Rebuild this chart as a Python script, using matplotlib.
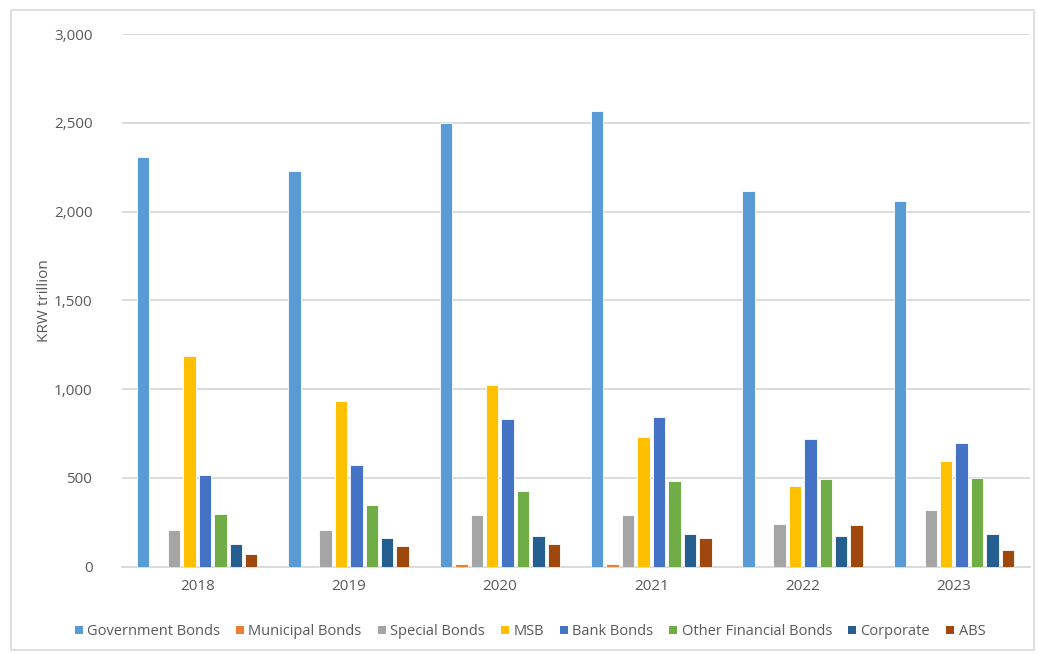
import matplotlib.pyplot as plt
import numpy as np
from matplotlib.patches import Rectangle, Patch
from matplotlib.ticker import FuncFormatter

years = ["2018", "2019", "2020", "2021", "2022", "2023"]
series = ["Government Bonds", "Municipal Bonds", "Special Bonds", "MSB",
          "Bank Bonds", "Other Financial Bonds", "Corporate", "ABS"]

government = [2306, 2228, 2500, 2567, 2115, 2057]
municipal = [0, 0, 17, 17, 0, 0]
special = [208, 208, 289, 289, 242, 320]
msb = [1184, 935, 1025, 729, 457, 594]
bank = [514, 570, 832, 841, 718, 695]
other_fin = [298, 345, 424, 480, 493, 502]
corporate = [129, 163, 174, 185, 174, 185]
abs_bonds = [73, 118, 129, 163, 233, 94]

values = [government, municipal, special, msb, bank, other_fin, corporate, abs_bonds]
colors = ["#5B9BD5", "#ED7D31", "#A5A5A5", "#FFC000",
          "#4472C4", "#70AD47", "#255E91", "#9E480E"]

plt.rcParams['font.family'] = ['Open Sans', 'DejaVu Sans']

fig = plt.figure(figsize=(10.39, 6.54), dpi=100)
ax = fig.add_axes([0.117, 0.1335, 0.874, 0.8145])

# thin grey frame round the whole chart
fig.patches.append(Rectangle((0.011, 0.006), 0.984, 0.978, transform=fig.transFigure,
                             fill=False, edgecolor="#D9D9D9", linewidth=1.2))

x = np.arange(len(years))
slot = 0.102
width = 0.082
for i, (name, vals, c) in enumerate(zip(series, values, colors)):
    offset = (i - 3.5) * slot
    ax.bar(x + offset, vals, width, color=c, edgecolor="white", linewidth=0.6,
           label=name, zorder=3)

ax.set_xlim(-0.5, 5.5)
ax.set_ylim(0, 3000)
ax.set_yticks(np.arange(0, 3001, 500))
ax.yaxis.set_major_formatter(FuncFormatter(lambda v, p: f"{int(v):,}"))
ax.set_xticks(x)
ax.set_xticklabels(years)

ax.grid(axis="y", color="#D9D9D9", linewidth=1.3, zorder=0)
for s in ["top", "right", "left"]:
    ax.spines[s].set_visible(False)
ax.spines["bottom"].set_color("#D9D9D9")
ax.spines["bottom"].set_linewidth(1.3)
ax.tick_params(axis="both", length=0, labelsize=11, colors="#595959")
ax.tick_params(axis="y", pad=21)
ax.tick_params(axis="x", pad=9)

ax.set_ylabel("KRW trillion", fontsize=11, color="#595959", labelpad=1)

handles = [Patch(facecolor=c, edgecolor="none") for c in colors]
fig.legend(handles, series, loc="center", bbox_to_anchor=(0.51, 0.034), ncol=8,
           frameon=False, fontsize=10.5, handlelength=0.55, handleheight=0.55,
           handletextpad=0.3, columnspacing=1.1, labelcolor="#595959")

fig.savefig("out.png", dpi=100)
